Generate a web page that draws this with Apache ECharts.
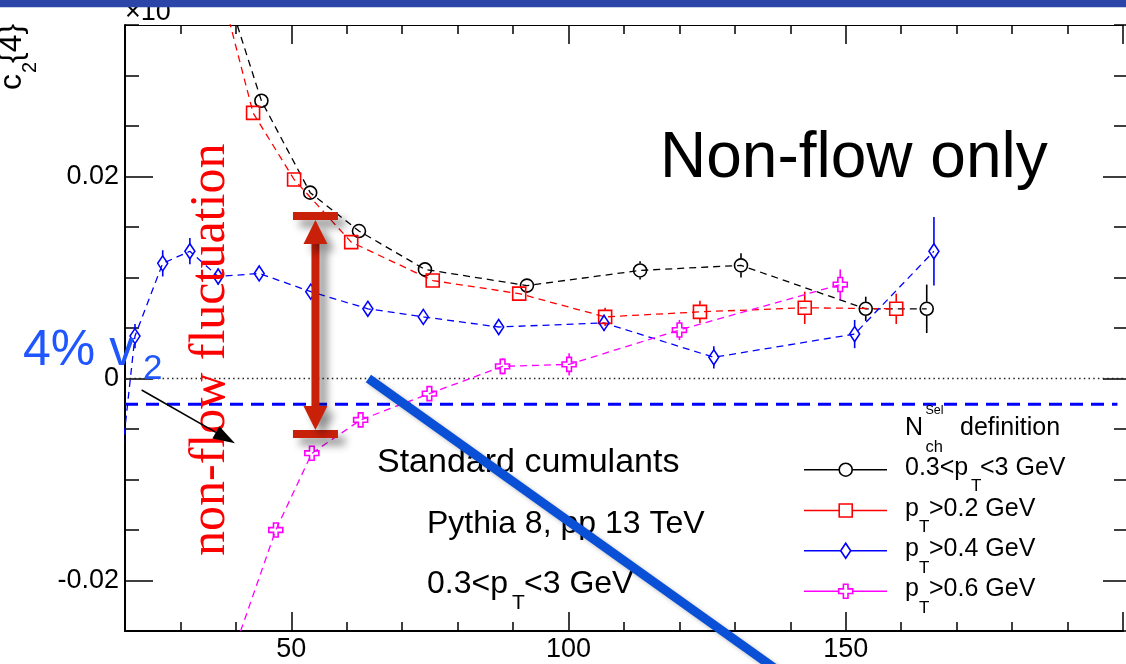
<!DOCTYPE html>
<html>
<head>
<meta charset="utf-8">
<script src="https://cdn.jsdelivr.net/npm/echarts@6/dist/echarts.min.js"></script>
<style>
html,body{margin:0;padding:0;background:#fff;}
#c{width:1126px;height:664px;}
</style>
</head>
<body>
<div id="c"></div>
<script>
// c2{4} versus N_ch^Sel for four multiplicity-selection definitions (PYTHIA 8, pp 13 TeV)
const nchBlack = [35, 44.6, 53.4, 62.2, 74.1, 92.5, 112.9, 131.1, 153.6, 164.6];
const c24Black = [0.0440, 0.0275, 0.0184, 0.0146, 0.0108, 0.0092, 0.0107, 0.0112, 0.0069, 0.0069];
const errBlack = [0, 0.0003, 0.0003, 0.0004, 0.0005, 0.0006, 0.0009, 0.0012, 0.0012, 0.0024];

const nchRed = [35, 43.1, 50.5, 60.8, 75.5, 91.1, 106.6, 123.7, 142.6, 159.1];
const c24Red = [0.0435, 0.0263, 0.0197, 0.0135, 0.0097, 0.0084, 0.0061, 0.0066, 0.0070, 0.0069];
const errRed = [0, 0.0003, 0.0003, 0.0004, 0.0005, 0.0006, 0.0009, 0.0011, 0.0016, 0.0015];

const nchBlue = [18, 21.8, 26.8, 31.7, 36.8, 44.2, 53.5, 63.8, 73.8, 87.4, 106.4, 126.2, 151.6, 165.9];
const c24Blue = [-0.0150, 0.0042, 0.0114, 0.0126, 0.0101, 0.0104, 0.0086, 0.0069, 0.0061, 0.0051, 0.0055, 0.0021, 0.0044, 0.0126];
const errBlue = [0, 0.0012, 0.0013, 0.0013, 0.0008, 0.0005, 0.0005, 0.0005, 0.0005, 0.0005, 0.0008, 0.0011, 0.0014, 0.0034];

const nchMag = [38, 47.2, 53.7, 62.5, 74.9, 88.1, 100.1, 120.0, 149.0];
const c24Mag = [-0.0295, -0.0150, -0.0074, -0.0041, -0.0015, 0.0012, 0.0014, 0.0048, 0.0093];
const errMag = [0, 0.0004, 0.0004, 0.0005, 0.0005, 0.0008, 0.0011, 0.0010, 0.0015];

// axis ranges and labelled ticks
const xRange = [20, 200];
const yRange = [-0.025, 0.035];
const xTickLabels = [50, 100, 150];
const xMajorTicks = [50, 100, 150, 200];
const yTickLabels = [-0.02, 0, 0.02];

// reference line: -v2^4 for v2 = 4 %, in units of 10^-3
const v2 = 0.04;
const v2Ref = -Math.pow(v2, 4) * 1e3;
const v2RefSpan = [20, 199];

// non-flow fluctuation span (x position, upper and lower c2{4})
const flucX = 54.35;
const flucSpan = [0.0161, -0.0055];

const legendTitle = ['N', 'Sel', 'ch', 'definition'];
const legendRows = [
  ['0.3<p', 'T', '<3 GeV'],
  ['p', 'T', '>0.2 GeV'],
  ['p', 'T', '>0.4 GeV'],
  ['p', 'T', '>0.6 GeV']
];

const SANS = '"Liberation Sans", Arial, Helvetica, sans-serif';
const SERIF = '"Liberation Serif", "Times New Roman", serif';
const COLORS = ['#000000', '#ff0000', '#0000ff', '#ff00ff'];
const CROSS = 'path://M-1,-3L1,-3L1,-1L3,-1L3,1L1,1L1,3L-1,3L-1,1L-3,1L-3,-1L-1,-1Z';

const pairs = (xs, ys) => xs.map((x, i) => [x, ys[i]]);
const triples = (xs, ys, es) => xs.map((x, i) => [x, ys[i], es[i]]);

const chart = echarts.init(document.getElementById('c'), null, {renderer: 'canvas'});

function lineSeries(name, data, color, symbol, size) {
  return {
    name, type: 'line', data, xAxisIndex: 0, yAxisIndex: 0,
    symbol, symbolSize: size, showAllSymbol: true, clip: true,
    lineStyle: {color, width: 1.3, type: [7, 5]},
    itemStyle: {color: 'rgba(0,0,0,0)', borderColor: color, borderWidth: 1.6},
    emphasis: {disabled: true}, z: 3, animation: false
  };
}

function refLine(data, color, width, dash) {
  return {
    type: 'line', data, xAxisIndex: 0, yAxisIndex: 0, symbol: 'none', silent: true, clip: true,
    lineStyle: {color, width, type: dash}, z: 2, animation: false
  };
}

function errSeries(data, color) {
  return {
    type: 'custom', data, xAxisIndex: 0, yAxisIndex: 0, clip: true, z: 3, animation: false,
    renderItem(params, api) {
      const x = api.value(0), y = api.value(1), e = api.value(2);
      const p = api.coord([x, y]);
      const top = api.coord([x, y + e])[1];
      const bot = api.coord([x, y - e])[1];
      const h = 7, kids = [];
      const st = {stroke: color, lineWidth: 1.6};
      if (p[1] - top > h) kids.push({type: 'line', shape: {x1: p[0], y1: top, x2: p[0], y2: p[1] - h}, style: st});
      if (bot - p[1] > h) kids.push({type: 'line', shape: {x1: p[0], y1: p[1] + h, x2: p[0], y2: bot}, style: st});
      return {type: 'group', children: kids};
    }
  };
}

const axisBase = {type: 'value', splitLine: {show: false}, axisPointer: {show: false}};
const line = (w, show) => ({show: show !== false, onZero: false, lineStyle: {color: '#000', width: w}});

chart.setOption({
  animation: false,
  grid: {left: 125, top: 25, width: 998, height: 606, containLabel: false},
  xAxis: [
    Object.assign({}, axisBase, {
      position: 'bottom', min: xRange[0], max: xRange[1], interval: 10,
      axisLine: line(2),
      axisTick: {inside: true, length: 9, lineStyle: {color: '#000', width: 1.5}},
      axisLabel: {
        margin: 5, fontSize: 27, fontFamily: SANS, color: '#000',
        formatter: v => (xTickLabels.indexOf(Math.round(v)) >= 0 && Math.abs(v - Math.round(v)) < 1e-6) ? String(Math.round(v)) : ''
      }
    }),
    Object.assign({}, axisBase, {
      position: 'bottom', min: xRange[0], max: xRange[1],
      axisLine: line(1, false),
      axisTick: {inside: true, length: 19, customValues: xMajorTicks, lineStyle: {color: '#000', width: 1.5}},
      axisLabel: {show: false}
    }),
    Object.assign({}, axisBase, {
      position: 'top', min: xRange[0], max: xRange[1], interval: 10,
      axisLine: line(1.2),
      axisTick: {inside: true, length: 9, lineStyle: {color: '#000', width: 1.5}},
      axisLabel: {show: false}
    }),
    Object.assign({}, axisBase, {
      position: 'top', min: xRange[0], max: xRange[1],
      axisLine: line(1, false),
      axisTick: {inside: true, length: 19, customValues: xMajorTicks, lineStyle: {color: '#000', width: 1.5}},
      axisLabel: {show: false}
    })
  ],
  yAxis: [
    Object.assign({}, axisBase, {
      position: 'left', min: yRange[0], max: yRange[1], interval: 0.005,
      axisLine: line(2),
      axisTick: {inside: true, length: 14, lineStyle: {color: '#000', width: 1.5}},
      axisLabel: {
        margin: 6, fontSize: 27, fontFamily: SANS, color: '#000',
        formatter: v => {
          const r = Math.round(v * 1000) / 1000;
          if (Math.abs(v - r) > 1e-9) return '';
          const hit = yTickLabels.find(t => Math.abs(t - r) < 1e-9);
          return hit === undefined ? '' : String(hit);
        }
      }
    }),
    Object.assign({}, axisBase, {
      position: 'left', min: yRange[0], max: yRange[1],
      axisLine: line(1, false),
      axisTick: {inside: true, length: 28, customValues: yTickLabels, lineStyle: {color: '#000', width: 1.5}},
      axisLabel: {show: false}
    }),
    Object.assign({}, axisBase, {
      position: 'right', offset: 4, min: yRange[0], max: yRange[1], interval: 0.005,
      axisLine: line(1, false),
      axisTick: {inside: true, length: 13, lineStyle: {color: '#000', width: 1.5}},
      axisLabel: {show: false}
    }),
    Object.assign({}, axisBase, {
      position: 'right', offset: 4, min: yRange[0], max: yRange[1],
      axisLine: line(1, false),
      axisTick: {inside: true, length: 24, customValues: yTickLabels, lineStyle: {color: '#000', width: 1.5}},
      axisLabel: {show: false}
    })
  ],
  series: [
    refLine([[xRange[0], 0], [xRange[1], 0]], '#222', 1.3, [1.5, 3.2]),
    refLine([[v2RefSpan[0], v2Ref], [v2RefSpan[1], v2Ref]], '#0000ff', 3, [13, 8]),
    lineSeries('0.3<pT<3 GeV', pairs(nchBlack, c24Black), COLORS[0], 'circle', 13),
    lineSeries('pT>0.2 GeV', pairs(nchRed, c24Red), COLORS[1], 'rect', 13),
    lineSeries('pT>0.4 GeV', pairs(nchBlue, c24Blue), COLORS[2], 'diamond', [10, 15]),
    lineSeries('pT>0.6 GeV', pairs(nchMag, c24Mag), COLORS[3], CROSS, [14, 14]),
    errSeries(triples(nchBlack, c24Black, errBlack), COLORS[0]),
    errSeries(triples(nchRed, c24Red, errRed), COLORS[1]),
    errSeries(triples(nchBlue, c24Blue, errBlue), COLORS[2]),
    errSeries(triples(nchMag, c24Mag, errMag), COLORS[3])
  ]
});

// ---- annotations, placed through the chart's own coordinate system ----
const px = (x, y) => chart.convertToPixel({xAxisIndex: 0, yAxisIndex: 0}, [x, y]);

function txt(x, base, text, size, o) {
  o = o || {};
  return {
    type: 'text', x, y: base - 0.35 * size, z: o.z || 60, silent: true,
    style: {text, fontSize: size, fontFamily: o.family || SANS, fill: o.color || '#000', align: o.align || 'left', verticalAlign: 'middle'}
  };
}

const g = [];

// banner strip and the axis multiplier that it partly covers
g.push(txt(125, 21.7, '×10', 27, {z: 150}));
g.push({type: 'rect', shape: {x: 0, y: 0, width: 1126, height: 7.3}, style: {fill: '#2b45a8'}, z: 200, silent: true});

// y-axis title c_2{4}, reading upward
g.push({
  type: 'group', x: 23, y: 90, rotation: Math.PI / 2, z: 60, silent: true,
  children: [
    {type: 'text', x: 0, y: -0.35 * 32, z: 60, style: {text: 'c', fontSize: 32, fontFamily: SANS, fill: '#000', verticalAlign: 'middle'}},
    {type: 'text', x: 17, y: 14 - 0.35 * 20, z: 60, style: {text: '2', fontSize: 20, fontFamily: SANS, fill: '#000', verticalAlign: 'middle'}},
    {type: 'text', x: 27, y: -0.35 * 32, z: 60, style: {text: '{4}', fontSize: 32, fontFamily: SANS, fill: '#000', verticalAlign: 'middle'}}
  ]
});

// headline
g.push(txt(660, 182, 'Non-flow only', 64));

// plot description
g.push(txt(377, 475, 'Standard cumulants', 34));
g.push(txt(427, 535, 'Pythia 8, pp 13 TeV', 32));
g.push(txt(427, 595, '0.3<p', 32));
g.push(txt(512, 611, 'T', 21));
g.push(txt(524, 595, '<3 GeV', 32));

// legend
g.push(txt(905, 436.7, legendTitle[0], 25));
g.push(txt(925.5, 415, legendTitle[1], 12.5));
g.push(txt(925.5, 453, legendTitle[2], 16.5));
g.push(txt(960, 436.7, legendTitle[3], 25));
const rowBase = [476.7, 517.5, 557.8, 598.2];
const subX = [971, 919, 919, 919];
const restX = [980, 929, 929, 929];
legendRows.forEach((r, i) => {
  const b = rowBase[i], cy = b - 7, col = COLORS[i];
  g.push({type: 'line', z: 55, silent: true, shape: {x1: 804, y1: cy, x2: 887, y2: cy}, style: {stroke: col, lineWidth: 1.5}});
  const st = {fill: '#fff', stroke: col, lineWidth: 1.6};
  if (i === 0) g.push({type: 'circle', z: 56, silent: true, shape: {cx: 845.7, cy, r: 6.5}, style: st});
  if (i === 1) g.push({type: 'rect', z: 56, silent: true, shape: {x: 839.2, y: cy - 6.5, width: 13, height: 13}, style: st});
  if (i === 2) g.push({type: 'polygon', z: 56, silent: true, shape: {points: [[845.7, cy - 7.5], [850.7, cy], [845.7, cy + 7.5], [840.7, cy]]}, style: st});
  if (i === 3) {
    const c = 845.7, a = 2.3, b2 = 7;
    g.push({type: 'polygon', z: 56, silent: true, shape: {points: [
      [c - a, cy - b2], [c + a, cy - b2], [c + a, cy - a], [c + b2, cy - a], [c + b2, cy + a], [c + a, cy + a],
      [c + a, cy + b2], [c - a, cy + b2], [c - a, cy + a], [c - b2, cy + a], [c - b2, cy - a], [c - a, cy - a]]}, style: st});
  }
  g.push(txt(905, b, r[0], 25));
  g.push(txt(subX[i], b + 16, r[1], 17));
  g.push(txt(restX[i], b, r[2], 25));
});

// "4% v2" label with its pointer
g.push(txt(23, 369, '4% v', 50, {color: '#1f56ff', z: 120}));
g.push(txt(143, 381.7, '2', 35, {color: '#1f56ff', z: 120}));
const aFrom = px(23.0, -0.00114), aTo = px(39.83, -0.00642);
{
  const dx = aTo[0] - aFrom[0], dy = aTo[1] - aFrom[1], L = Math.hypot(dx, dy);
  const ux = dx / L, uy = dy / L, hl = 22, hw = 7;
  const bx = aTo[0] - ux * hl, by = aTo[1] - uy * hl;
  g.push({type: 'line', z: 110, silent: true, shape: {x1: aFrom[0], y1: aFrom[1], x2: bx, y2: by}, style: {stroke: '#000', lineWidth: 1.6}});
  g.push({type: 'polygon', z: 110, silent: true, shape: {points: [aTo, [bx - uy * hw, by + ux * hw], [bx + uy * hw, by - ux * hw]]}, style: {fill: '#000'}});
}

// vertical red caption
g.push({
  type: 'group', x: 228, y: 556, rotation: Math.PI / 2, z: 90, silent: true,
  children: [
    {type: 'text', x: 0, y: -0.35 * 50, z: 90, style: {text: 'non-flow fluctuation', fontSize: 50, fontFamily: SERIF, fill: '#ff0000', verticalAlign: 'middle'}}
  ]
});

// double-headed span marker with drop shadow
{
  const t = px(flucX, flucSpan[0]), b = px(flucX, flucSpan[1]);
  const cx = t[0], red = '#c9200a';
  const sh = {shadowBlur: 9, shadowOffsetX: 7, shadowOffsetY: 7, shadowColor: 'rgba(0,0,0,0.45)'};
  const sty = Object.assign({fill: red}, sh);
  const head = 24, hw = 12, sw = 4;
  g.push({type: 'rect', z: 100, silent: true, shape: {x: cx - 22.5, y: t[1] - 4, width: 45, height: 8}, style: sty});
  g.push({type: 'rect', z: 100, silent: true, shape: {x: cx - 22.5, y: b[1] - 4, width: 45, height: 8}, style: sty});
  g.push({type: 'rect', z: 100, silent: true, shape: {x: cx - sw, y: t[1] + 4 + head - 1, width: 2 * sw, height: (b[1] - 4 - head) - (t[1] + 4 + head) + 2}, style: sty});
  g.push({type: 'polygon', z: 101, silent: true, shape: {points: [[cx, t[1] + 4], [cx + hw, t[1] + 4 + head], [cx - hw, t[1] + 4 + head]]}, style: sty});
  g.push({type: 'polygon', z: 101, silent: true, shape: {points: [[cx, b[1] - 4], [cx + hw, b[1] - 4 - head], [cx - hw, b[1] - 4 - head]]}, style: sty});
}

// diagonal blue stroke
{
  const s = px(63.9, 0), e = px(139.5, -0.0296);
  g.push({type: 'line', z: 130, silent: true, shape: {x1: s[0], y1: s[1], x2: e[0], y2: e[1]},
    style: {stroke: '#0a50d6', lineWidth: 9, lineCap: 'butt', shadowBlur: 4, shadowOffsetX: 2, shadowOffsetY: 2, shadowColor: 'rgba(0,0,0,0.25)'}});
}

chart.setOption({graphic: {elements: g}});
</script>
</body>
</html>
